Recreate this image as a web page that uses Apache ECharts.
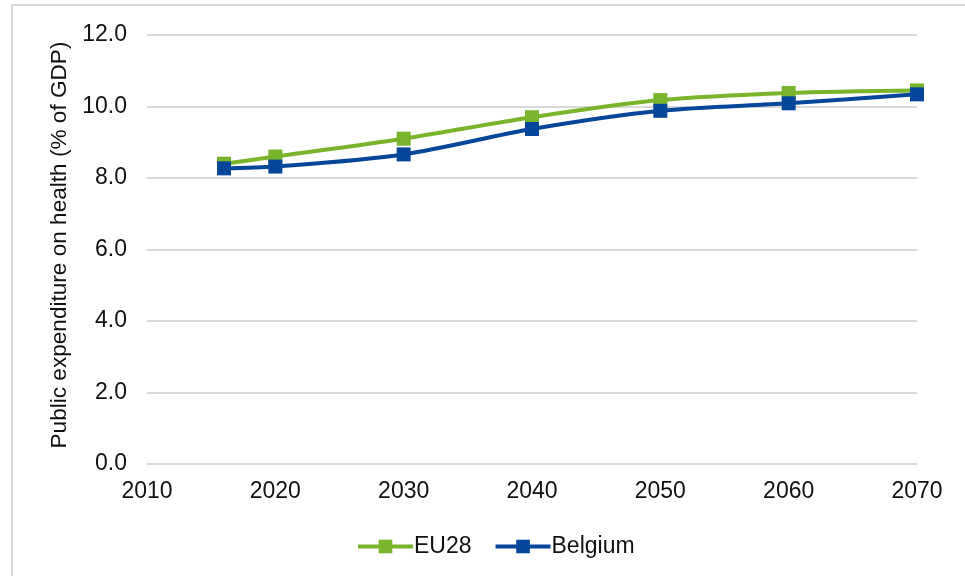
<!DOCTYPE html>
<html>
<head>
<meta charset="utf-8">
<script src="https://cdn.jsdelivr.net/npm/echarts@6/dist/echarts.min.js"></script>
<style>
html,body{margin:0;padding:0;background:#fff;}
#chart{width:965px;height:576px;}
</style>
</head>
<body>
<div id="chart"></div>
<script>
const years = [2016, 2020, 2030, 2040, 2050, 2060, 2070];
const eu28 = [8.4, 8.6, 9.1, 9.7, 10.18, 10.38, 10.45];
const belgium = [8.27, 8.32, 8.66, 9.37, 9.88, 10.09, 10.34];
const seriesNames = ['EU28', 'Belgium'];
const yAxisTitle = 'Public expenditure on health (% of GDP)';

const GREEN = '#79B52A';
const BLUE = '#03469A';
const FONT = 'Liberation Sans, Arial, sans-serif';

const chart = echarts.init(document.getElementById('chart'), null, {renderer: 'canvas'});
chart.setOption({
  animation: false,
  backgroundColor: '#fff',
  textStyle: {fontFamily: FONT},
  graphic: [{
    type: 'rect',
    shape: {x: 12, y: 5, width: 1000, height: 620},
    style: {fill: 'none', stroke: '#d9d9d9', lineWidth: 2},
    z: -10
  }],
  grid: {left: 147, right: 48, top: 35, bottom: 112},
  legend: {
    data: seriesNames,
    left: 351,
    top: 530,
    itemWidth: 55,
    itemHeight: 17,
    itemGap: 22,
    lineStyle: {width: 4},
    textStyle: {fontFamily: FONT, fontSize: 23, color: '#111', padding: [0, 0, 0, -4]}
  },
  xAxis: {
    type: 'value',
    min: 2010, max: 2070, interval: 10,
    axisLine: {show: false},
    axisTick: {show: false},
    splitLine: {show: false},
    axisLabel: {fontFamily: FONT, fontSize: 23, color: '#111', margin: 16,
      formatter: v => String(v)}
  },
  yAxis: {
    type: 'value',
    min: 0, max: 12, interval: 2,
    name: yAxisTitle,
    nameLocation: 'middle',
    nameRotate: 90,
    nameGap: 74,
    nameTextStyle: {fontFamily: FONT, fontSize: 22.6, color: '#111', padding: [0, 0, 0, 9]},
    axisLine: {show: false},
    axisTick: {show: false},
    splitLine: {lineStyle: {color: '#d9d9d9', width: 2}},
    axisLabel: {fontFamily: FONT, fontSize: 23, color: '#111', margin: 20,
      formatter: v => v.toFixed(1)}
  },
  series: [
    {
      name: seriesNames[0], type: 'line', smooth: 0.3,
      data: years.map((y, i) => [y, eu28[i]]),
      symbol: 'rect', symbolSize: 14,
      lineStyle: {color: GREEN, width: 4},
      itemStyle: {color: GREEN},
      z: 2
    },
    {
      name: seriesNames[1], type: 'line', smooth: 0.3,
      data: years.map((y, i) => [y, belgium[i]]),
      symbol: 'rect', symbolSize: 14,
      lineStyle: {color: BLUE, width: 4},
      itemStyle: {color: BLUE},
      z: 3
    }
  ]
});
</script>
</body>
</html>
